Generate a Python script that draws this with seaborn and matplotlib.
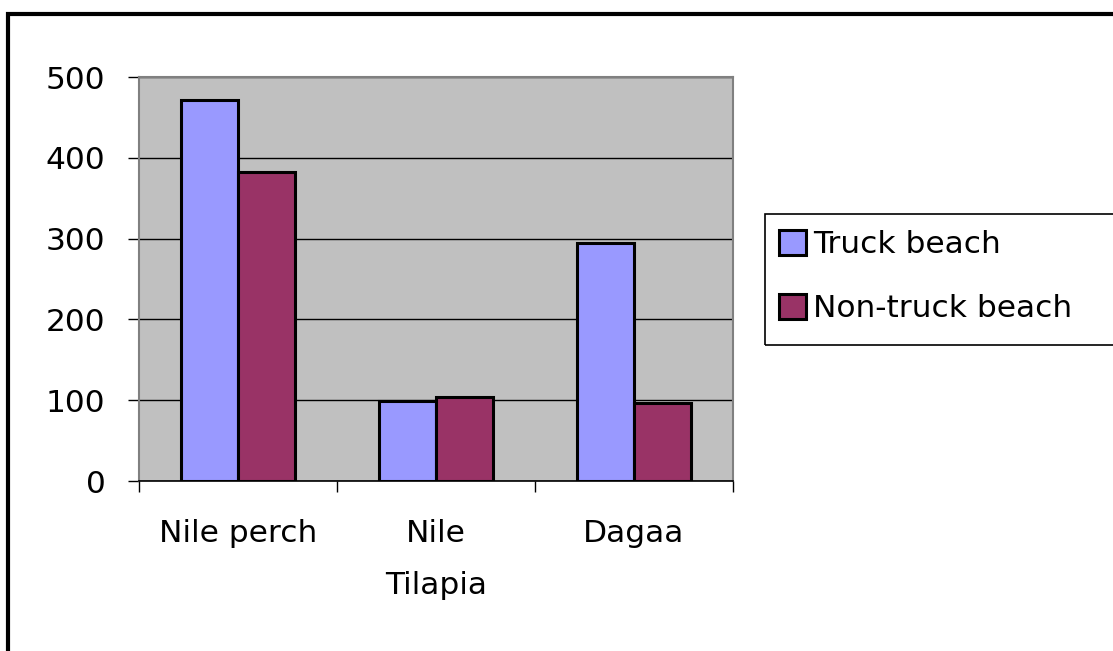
import pandas as pd
import matplotlib.pyplot as plt
import seaborn as sns
from matplotlib.patches import Rectangle

categories = ["Nile perch", "Nile\nTilapia", "Dagaa"]
truck = [472, 99, 295]
non_truck = [382, 104, 96]
series = ["Truck beach", "Non-truck beach"]

df = pd.DataFrame({
    "fish": categories * 2,
    "value": truck + non_truck,
    "beach": [series[0]] * 3 + [series[1]] * 3,
})

sns.set_style("white")
plt.rcParams['font.family'] = ['DejaVu Sans']
plt.rcParams['text.color'] = 'black'
plt.rcParams['xtick.color'] = 'black'
plt.rcParams['ytick.color'] = 'black'
fs = 22.5

fig = plt.figure(figsize=(11.13, 6.51), dpi=100)
ax = fig.add_axes([0.1249, 0.2611, 0.5337, 0.6206])
ax.set_facecolor("#C0C0C0")

sns.barplot(data=df, x="fish", y="value", hue="beach", order=categories,
            hue_order=series, palette=["#9999FF", "#993366"], saturation=1,
            width=0.58, edgecolor="black", linewidth=2.2, ax=ax, zorder=3)

ax.set_xlim(-0.5, 2.5)
ax.set_ylim(0, 500)
ax.set_yticks([0, 100, 200, 300, 400, 500])
ax.yaxis.grid(True, color="black", linewidth=1)
ax.set_axisbelow(True)
ax.set_xlabel("")
ax.set_ylabel("")

ax.set_xticks([0, 1, 2])
ax.set_xticklabels(categories)
ax.set_xticks([-0.5, 0.5, 1.5, 2.5], minor=True)
ax.tick_params(axis="x", which="major", length=0, pad=27, labelsize=fs)
ax.tick_params(axis="x", which="minor", length=8, width=1, color="black", direction="out", bottom=True)
ax.tick_params(axis="y", length=8, width=1, color="black", direction="out", left=True, pad=16, labelsize=fs)
for lab in ax.get_xticklabels():
    lab.set_linespacing(2.0)

for side in ["left", "top", "right"]:
    ax.spines[side].set_color("#808080")
    ax.spines[side].set_linewidth(1.5)
ax.spines["bottom"].set_color("black")
ax.spines["bottom"].set_linewidth(1.2)

# legend box clipped by the right edge, like the reference
fig.patches.append(Rectangle((765 / 1113, 1 - 345 / 651), 0.4, 131 / 651, transform=fig.transFigure,
                             fill=False, edgecolor="black", linewidth=1.2))
handles, labels = ax.get_legend_handles_labels()
ax.legend_.remove()
fig.legend(handles, labels, loc="upper left", bbox_to_anchor=(779 / 1113, 1 - 230 / 651),
           frameon=False, fontsize=fs,
           handlelength=0.85, handleheight=0.85, handletextpad=0.25,
           labelspacing=1.1, borderpad=0, borderaxespad=0)

fig.patches.append(Rectangle((0.0072, -0.1), 1.1, 1.0785, transform=fig.transFigure,
                             fill=False, edgecolor="black", linewidth=3))

fig.savefig("out.png", dpi=100)
